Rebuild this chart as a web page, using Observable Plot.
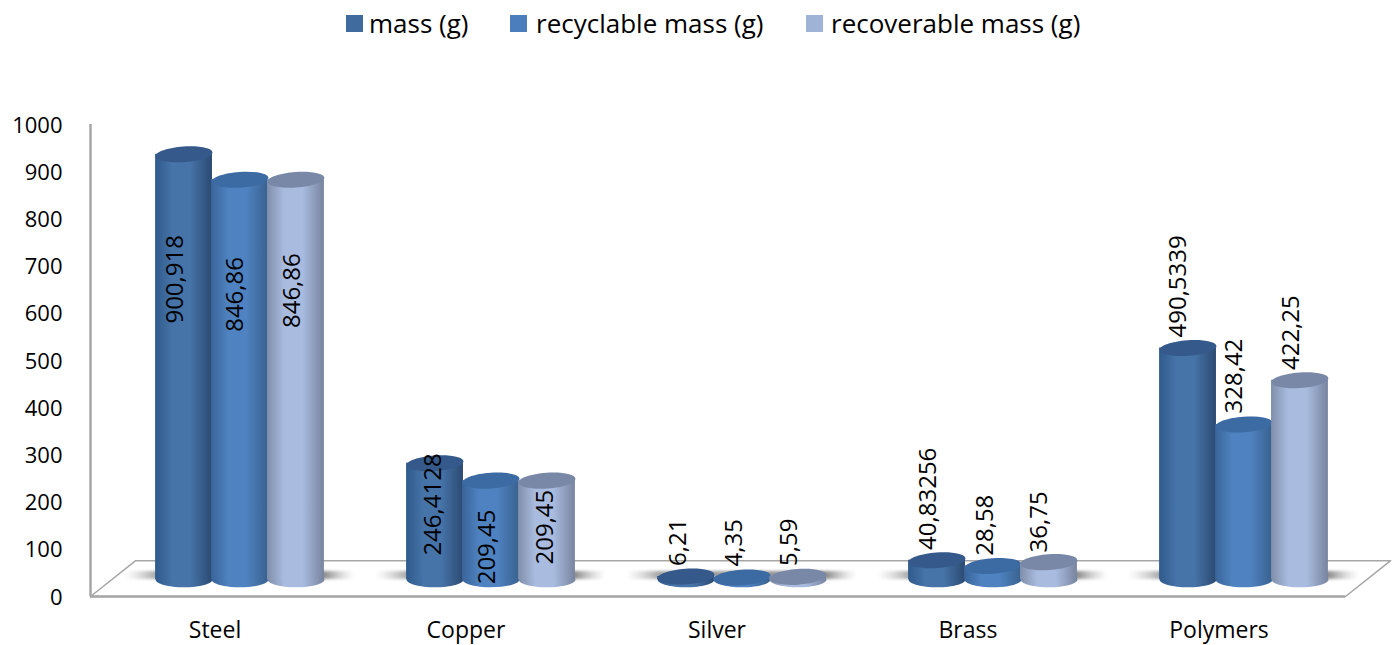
<!DOCTYPE html>
<html><head><meta charset="utf-8">
<script src="https://cdn.jsdelivr.net/npm/d3@7"></script>
<script src="https://cdn.jsdelivr.net/npm/@observablehq/plot@0.6"></script>
<style>
html,body{margin:0;padding:0;background:#fff;}
body{width:1400px;height:645px;overflow:hidden;font-family:"Open Sans",sans-serif;}
#legend{height:48px;position:relative;color:#000;font-size:26px;}
#legend span{position:absolute;top:5px;line-height:36px;white-space:nowrap;}
#legend i{position:absolute;top:15px;width:17px;height:17px;}
svg{display:block;}
g[fill="url(#shadow)"]{filter:blur(1.6px);}
</style></head><body>
<div id="legend"></div>
<div id="chart"></div>
<script>
const categories = ["Steel", "Copper", "Silver", "Brass", "Polymers"];
const seriesNames = ["mass (g)", "recyclable mass (g)", "recoverable mass (g)"];
const massValues = [900.918, 246.4128, 6.21, 40.83256, 490.5339];
const recyclableValues = [846.86, 209.45, 4.35, 28.58, 328.42];
const recoverableValues = [846.86, 209.45, 5.59, 36.75, 422.25];
const yTicks = [0, 100, 200, 300, 400, 500, 600, 700, 800, 900, 1000];

// label anchor heights in axis units, and their sideways nudge in pixels
const labelAt = [
  [672, 195, 115, 207, 657],
  [640, 105, 114, 151, 467],
  [648, 147, 115, 158, 559]
];
const labelNudge = [
  [-8.5, -2, -8, -9, -10],
  [-4.5, -4, -8, -8, -10],
  [-4, -2, -9, -10, -9]
];
const seriesValues = [massValues, recyclableValues, recoverableValues];
const colors = [
  {edgeL:"#2f5a8c", mid:"#4673a8", edgeR:"#2b4a72", top:"#34598a", key:"#3f6b9f"},
  {edgeL:"#39649a", mid:"#4f82c0", edgeR:"#38618f", top:"#3c6ba3", key:"#4a7ebd"},
  {edgeL:"#7f8ea9", mid:"#a9bce0", edgeR:"#78849f", top:"#7a88a8", key:"#9fb3d6"}
];

const rows = seriesValues.map((vals, s) => categories.map((c, i) => ({
  category: c, index: i, series: s, value: vals[i], at: labelAt[s][i], nudge: labelNudge[s][i],
  label: String(vals[i]).replace(".", ",")
})));

const W = 0.223, DX = 24, DY = -17, RX = 28.5, RY = 7.8, UNIT_PX = 251;
const center = d => d.index + 0.5 + (d.series - 1) * W;
const floorDepth = [0.18, 76];
const floor = [[0, 0], [floorDepth[0], floorDepth[1]], [5 + floorDepth[0], floorDepth[1]], [5, 0], [0, 0]];
const groups = categories.map((c, i) => ({index: i}));

function ellipse(rx, ry, deg) {
  const a = deg * Math.PI / 180, k = 0.5523;
  const p = (u, v) => [u * Math.cos(a) - v * Math.sin(a), u * Math.sin(a) + v * Math.cos(a)];
  return {draw(ctx) {
    ctx.moveTo(...p(rx, 0));
    ctx.bezierCurveTo(...p(rx, k * ry), ...p(k * rx, ry), ...p(0, ry));
    ctx.bezierCurveTo(...p(-k * rx, ry), ...p(-rx, k * ry), ...p(-rx, 0));
    ctx.bezierCurveTo(...p(-rx, -k * ry), ...p(-k * rx, -ry), ...p(0, -ry));
    ctx.bezierCurveTo(...p(k * rx, -ry), ...p(rx, -k * ry), ...p(rx, 0));
    ctx.closePath();
  }};
}

function defsMark() {
  const ns = "http://www.w3.org/2000/svg";
  const defs = document.createElementNS(ns, "defs");
  const stops = (el, list) => list.forEach(([o, c, op]) => {
    const st = document.createElementNS(ns, "stop");
    st.setAttribute("offset", o); st.setAttribute("stop-color", c);
    if (op != null) st.setAttribute("stop-opacity", op);
    el.appendChild(st);
  });
  colors.forEach((c, s) => {
    const g = document.createElementNS(ns, "linearGradient");
    g.setAttribute("id", "cyl" + s);
    stops(g, [[0, c.edgeL], [0.3, c.mid], [0.62, c.mid], [1, c.edgeR]]);
    defs.appendChild(g);
  });
  const r = document.createElementNS(ns, "linearGradient");
  r.setAttribute("id", "shadow");
  stops(r, [[0, "#bbb", 0], [0.14, "#8f8f8f", 0.8], [0.87, "#808080", 0.9], [1, "#bbb", 0]]);
  defs.appendChild(r);
  return defs;
}

const cylinderMarks = rows.flatMap((data, s) => [
  Plot.dot(data, {x: center, y: 0, r: 3, symbol: ellipse(RX, RY, 0), fill: `url(#cyl${s})`, dx: DX, dy: DY}),
  Plot.rectY(data, {x1: d => center(d) - W * 0.508, x2: d => center(d) + W * 0.508, y: "value", fill: `url(#cyl${s})`, dx: DX, dy: DY}),
  Plot.dot(data, {x: center, y: "value", r: 3, symbol: ellipse(RX, RY, -4), fill: colors[s].top, dx: DX, dy: DY})
]);

const chart = Plot.plot({
  width: 1400, height: 597,
  marginLeft: 90, marginRight: 55, marginTop: 76, marginBottom: 49,
  x: {domain: [0, 5]},
  y: {domain: [0, 1000]},
  style: {background: "#fff", fontFamily: '"Open Sans",sans-serif', color: "#000"},
  marks: [
    defsMark,
    Plot.line(floor, {x: d => d[0], y: d => d[1], stroke: "#a6a6a6", strokeWidth: 1.5, fill: "#fff"}),
    Plot.ruleY([0], {stroke: "#a6a6a6", strokeWidth: 2.5}),
    Plot.ruleX([0], {y1: 0, y2: 1000, stroke: "#a6a6a6", strokeWidth: 2.5}),
    Plot.rect(groups, {x1: d => d.index + 0.5 - 0.458, x2: d => d.index + 0.5 + 0.458, y1: 36, y2: 53, fill: "url(#shadow)", dx: DX}),
    ...cylinderMarks,
    ...rows.map(data => Plot.text(data, {x: d => center(d) + (DX + d.nudge) / UNIT_PX, y: "at", text: "label", rotate: -90, fontSize: 24, fill: "#000", textAnchor: "middle"})),
    Plot.axisY({ticks: yTicks, tickFormat: "d", tickSize: 0, tickPadding: 28, fontSize: 22, dy: 1, label: null}),
    Plot.axisX({ticks: categories.map((c, i) => i + 0.5), tickFormat: v => categories[Math.round(v - 0.5)], tickSize: 0, tickPadding: 25, fontSize: 23, dx: -1, label: null})
  ]
});
document.getElementById("chart").appendChild(chart);

const legend = document.getElementById("legend");
const keyX = [346, 510, 806], textX = [369, 536, 831];
seriesNames.forEach((n, s) => {
  const k = document.createElement("i");
  k.style.left = keyX[s] + "px"; k.style.background = colors[s].key;
  const t = document.createElement("span");
  t.style.left = textX[s] + "px"; t.textContent = n;
  legend.append(k, t);
});
</script>
</body></html>
